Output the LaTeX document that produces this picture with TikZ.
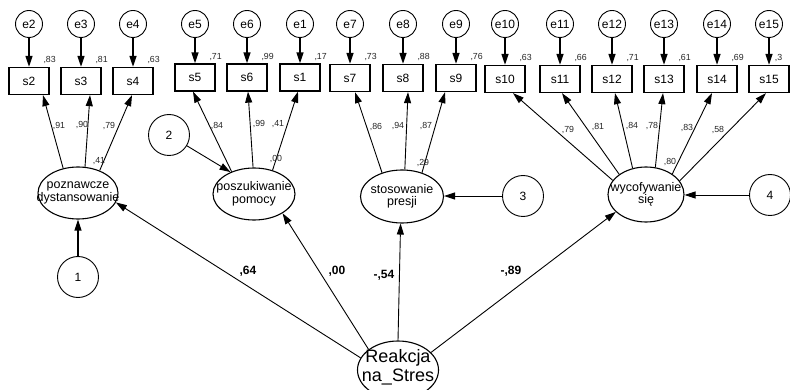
\documentclass[tikz,border=0pt]{standalone}
\usepackage{fontspec}
\setmainfont{Liberation Sans}
\usetikzlibrary{shapes.geometric,arrows.meta,calc}

\begin{document}
\begin{tikzpicture}[x=1pt,y=-1pt,
  obs/.style={draw, line width=1.3pt, minimum width=40pt, minimum height=27pt, inner sep=0pt, font=\fontsize{12}{14}\selectfont},
  err/.style={draw, circle, line width=0.9pt, minimum size=27pt, inner sep=0pt, font=\fontsize{12}{14}\selectfont},
  dist/.style={draw, circle, line width=0.9pt, minimum size=41pt, inner sep=0pt, font=\fontsize{12}{14}\selectfont},
  latent/.style={draw, ellipse, line width=1.1pt, inner sep=0pt},
  lattext/.style={align=center, inner sep=0pt, font=\fontsize{12.5}{12.5}\selectfont},
  reg/.style={-{Triangle[length=11pt,width=7pt]}, line width=0.9pt},
  errarrow/.style={-{Triangle[length=11pt,width=7pt]}, line width=1.5pt},
  est/.style={inner sep=0pt, font=\fontsize{8.8}{10}\selectfont, text=black!85},
  coef/.style={inner sep=0pt, font=\fontsize{12}{14}\selectfont\bfseries},
]
\useasboundingbox (0,0) rectangle (790,390);
\fill[white] (0,0) rectangle (790,390);
\clip (0,0) rectangle (790,390);

% observed indicators
\node[obs] (s2)  at (29,81)    {s2};
\node[obs] (s3)  at (81,81)    {s3};
\node[obs] (s4)  at (133,81)   {s4};
\node[obs] (s5)  at (195,77.5) {s5};
\node[obs] (s6)  at (247,77.5) {s6};
\node[obs] (s1)  at (300,77.5) {s1};
\node[obs] (s7)  at (350,78)   {s7};
\node[obs] (s8)  at (403,78)   {s8};
\node[obs] (s9)  at (456,78)   {s9};
\node[obs] (s10) at (505,79)   {s10};
\node[obs] (s11) at (560,79)   {s11};
\node[obs] (s12) at (612,79)   {s12};
\node[obs] (s13) at (664,79)   {s13};
\node[obs] (s14) at (717,79)   {s14};
\node[obs] (s15) at (769,79)   {s15};

% measurement errors
\foreach \e/\s in {e2/s2, e3/s3, e4/s4, e5/s5, e6/s6, e1/s1, e7/s7, e8/s8, e9/s9,
                   e10/s10, e11/s11, e12/s12, e13/s13, e14/s14, e15/s15} {
  \node[err] (\e) at (\s |- 0,24) {\e};
  \draw[errarrow] (\e) -- (\s);
}

% squared multiple correlations of the indicators
\foreach \s/\v in {s2/83, s3/81, s4/63, s5/71, s6/99, s1/17, s7/73, s8/88, s9/76,
                   s10/63, s11/66, s12/71, s13/61, s14/69} {
  \node[est] (r\s) at ($(\s.north east)+(0,-6.5)$) {,\v};
}
\node[est, anchor=west] (rs15) at ($(s15.north east)+(-15,-6.5)$) {,3};

% latent factors
\node[latent, minimum width=80pt, minimum height=52pt] (pd) at (78,193) {};
\node[lattext] (pdt) at (pd) {poznawcze\\dystansowanie};
\node[latent, minimum width=82pt, minimum height=52pt] (pp) at (254,194) {};
\node[lattext] (ppt) at (pp) {poszukiwanie\\pomocy};
\node[latent, minimum width=83pt, minimum height=53pt] (sp) at (402,196.5) {};
\node[lattext] (spt) at (sp) {stosowanie\\presji};
\node[latent, minimum width=76pt, minimum height=55pt] (wy) at (646,194.5) {};
\node[lattext] (wyt) at (wy) {wycofywanie\\się};
\node[latent, minimum width=81pt, minimum height=58pt] (rs) at (398,370) {};
\node[lattext, font=\fontsize{18}{19}\selectfont] (rst) at ($(rs)+(0,-3)$) {Reakcja\\na\_Stres};

% residuals of the latent factors
\node[dist] (d1) at (78,277)  {1};
\node[dist] (d2) at (169,135) {2};
\node[dist] (d3) at (523,196) {3};
\node[dist] (d4) at (770,195) {4};
\draw[reg, line width=1.2pt] (d1) -- (pd);
\draw[reg] (d2) -- (pp.137);
\draw[reg] (d3) -- (d3 -| sp.east);
\draw[reg] (d4) -- (d4 -| wy.east);

% loadings
\draw[reg] (pd.121.6) -- ($(s2.south)+(14,0)$);
\draw[reg] (pd.75.5)  -- ($(s3.south)+(9,0)$);
\draw[reg] (pd.46)    -- ($(s4.south)+(-1,0)$);
\draw[reg] (pp.135)   -- ($(s5.south)+(-2,0)$);
\draw[reg] (pp.92)    -- ($(s6.south)+(1,0)$);
\draw[reg] (pp.52)    -- ($(s1.south)+(-2,0)$);
\draw[reg] (sp.130)   -- ($(s7.south)+(5,0)$);
\draw[reg] (sp.84)    -- ($(s8.south)+(5,0)$);
\draw[reg] (sp.50)    -- ($(s9.south)+(-11,0)$);
\draw[reg] (wy.157)   -- ($(s10.south)+(8,0)$);
\draw[reg] (wy.143.5) -- ($(s11.south)+(2,0)$);
\draw[reg] (wy.117.5) -- ($(s12.south)+(3,0)$);
\draw[reg] (wy.71)    -- ($(s13.south)+(-1,0)$);
\draw[reg] (wy.38)    -- ($(s14.south)+(-5,0)$);
\draw[reg] (wy.22.6)  -- ($(s15.south)+(-3,0)$);

% standardized loadings
\node[est] (l2)  at (59,126)  {,91};
\node[est] (l3)  at (82,125)  {,90};
\node[est] (l4)  at (109,126) {,79};
\node[est] (rpd) at (99,161)  {,41};
\node[est] (l5)  at (217,126) {,84};
\node[est] (l6)  at (259,124) {,99};
\node[est] (l1)  at (278,124) {,41};
\node[est] (rpp) at (276,159) {,00};
\node[est] (l7)  at (376,127) {,86};
\node[est] (l8)  at (398,126) {,94};
\node[est] (l9)  at (426,126) {,87};
\node[est] (rsp) at (423,163) {,29};
\node[est] (l10) at (568,130) {,79};
\node[est] (l11) at (598,127) {,81};
\node[est] (l12) at (632,126) {,84};
\node[est] (l13) at (652,126) {,78};
\node[est] (l14) at (687,128) {,83};
\node[est] (l15) at (718,130) {,58};
\node[est] (rwy) at (670,162) {,80};

% structural paths from the second-order factor
\draw[reg] (rs.162) -- (pd.-14);
\draw[reg] (rs.145) -- (pp.-34.6);
\draw[reg] (rs.north) -- (sp.-93);
\draw[reg] (rs.28.5) -- (wy.-150);

\node[coef] (c1) at (248,271) {,64};
\node[coef] (c2) at (337,271) {,00};
\node[coef] (c3) at (384,275) {-,54};
\node[coef] (c4) at (511,271) {-,89};
\end{tikzpicture}
\end{document}
